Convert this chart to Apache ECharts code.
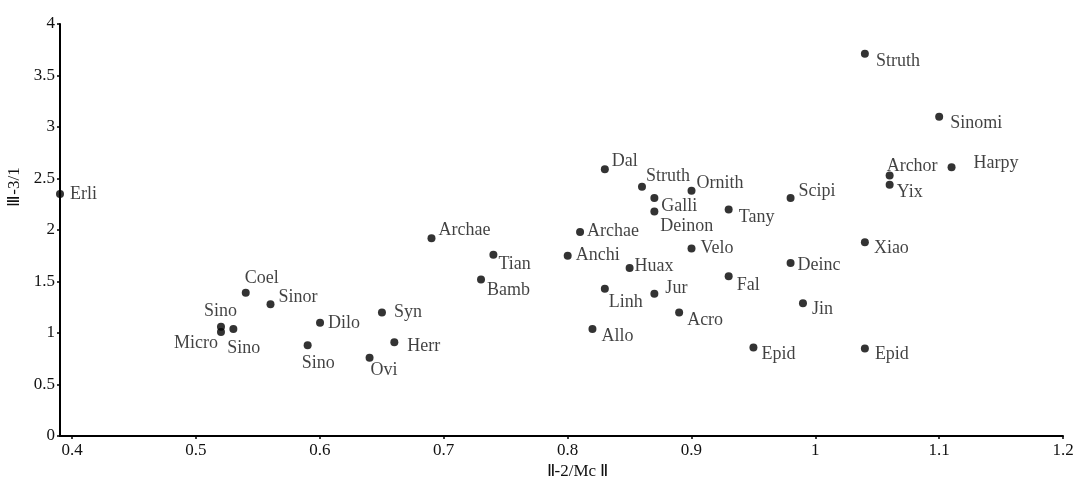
<!DOCTYPE html>
<html>
<head>
<meta charset="utf-8">
<script src="https://cdn.jsdelivr.net/npm/echarts@6/dist/echarts.min.js"></script>
<style>
html, body { margin: 0; padding: 0; background: #fff; }
#main { width: 1081px; height: 479px; }
</style>
</head>
<body>
<div id="main"></div>
<script>
// taxon labels and the two ratios
var names = ['Erli','Coel','Sinor','Sino','Micro','Sino','Dilo','Sino','Archae','Tian',
    'Bamb','Syn','Herr','Ovi','Dal','Struth','Ornith','Galli','Deinon','Tany',
    'Archae','Anchi','Huax','Velo','Fal','Linh','Jur','Acro','Allo','Struth',
    'Sinomi','Harpy','Archor','Yix','Scipi','Xiao','Deinc','Jin','Epid','Epid'];
var xVals = [0.39,0.54,0.56,0.52,0.52,0.53,0.60,0.59,0.69,0.74,
    0.73,0.65,0.66,0.64,0.83,0.86,0.90,0.87,0.87,0.93,
    0.81,0.80,0.85,0.90,0.93,0.83,0.87,0.89,0.82,1.04,
    1.10,1.11,1.06,1.06,0.98,1.04,0.98,0.99,0.95,1.04];
var yVals = [2.35,1.39,1.28,1.06,1.01,1.04,1.10,0.88,1.92,1.76,
    1.52,1.20,0.91,0.76,2.59,2.42,2.38,2.31,2.18,2.20,
    1.98,1.75,1.63,1.82,1.55,1.43,1.38,1.20,1.04,3.71,
    3.10,2.61,2.53,2.44,2.31,1.88,1.68,1.29,0.86,0.85];
var xTicks = [0.4,0.5,0.6,0.7,0.8,0.9,1,1.1,1.2];

// label placement (px from dot centre), style only
var labelOff = [[10,0],[-1,-15],[8,-7],[-17,-16],[-3,11,'right'],[-6,19],[8,1],[-6,18],[7,-8],[5,10],
    [6,11],[12,0],[13,4],[1,13],[7,-8],[4,-10],[5,-8],[7,8],[6,15],[10,8],
    [7,-1],[8,0],[5,-2],[9,0],[8,9],[4,14],[11,-6],[8,8],[9,7],[11,7],
    [11,7],[22,-4],[-3,-9],[7,8],[8,-7],[9,6],[7,2],[9,6],[8,7],[10,6]];

var FONT = '"Liberation Serif", "Times New Roman", serif';
var SYM = 8;

var pts = [];
for (var i = 0; i < names.length; i++) {
    var o = labelOff[i];
    pts.push({
        name: names[i],
        value: [xVals[i], yVals[i]],
        label: {
            position: [o[0] + SYM / 2, o[1] + SYM / 2],
            align: o[2] || 'left',
            verticalAlign: 'middle'
        }
    });
}

var myChart = echarts.init(document.getElementById('main'));
var option = {
    backgroundColor: '#fff',
    animation: false,
    grid: [
        { left: 60, right: 18, top: 24, bottom: 43, containLabel: false, outerBoundsMode: 'none' },
        { left: 72, right: 18, top: 24, bottom: 43, containLabel: false, outerBoundsMode: 'none' }
    ],
    xAxis: [{
        gridIndex: 0,
        type: 'value',
        min: 0.39,
        max: 1.2,
        axisLine: { show: true, lineStyle: { color: '#000', width: 2 } },
        axisTick: { show: false },
        axisLabel: { show: false },
        splitLine: { show: false },
        name: 'Ⅱ-2/Mc Ⅱ',
        nameLocation: 'middle',
        nameGap: 27,
        nameTextStyle: { fontFamily: FONT, fontSize: 17, color: '#111', padding: [0, 0, 0, 32] }
    }, {
        // display axis for the 0.4..1.2 ticks
        gridIndex: 1,
        type: 'value',
        min: 0.4,
        max: 1.2,
        interval: 0.1,
        axisLine: { show: false },
        axisTick: { show: true, length: 3, lineStyle: { color: '#000', width: 1.5 } },
        axisLabel: {
            fontFamily: FONT, fontSize: 17, color: '#111', margin: 6,
            formatter: function (v) { return String(Math.round(v * 10) / 10); }
        },
        splitLine: { show: false }
    }],
    yAxis: [{
        gridIndex: 0,
        type: 'value',
        min: 0,
        max: 4,
        interval: 0.5,
        axisLine: { show: true, lineStyle: { color: '#000', width: 2 } },
        axisTick: { show: true, length: 3, lineStyle: { color: '#000', width: 1.5 } },
        axisLabel: { fontFamily: FONT, fontSize: 17, color: '#111', margin: 5 },
        splitLine: { show: false },
        name: 'Ⅲ-3/1',
        nameLocation: 'middle',
        nameGap: 36,
        nameTextStyle: { fontFamily: FONT, fontSize: 17, color: '#111', padding: [0, 0, 0, 86] }
    }, {
        gridIndex: 1,
        type: 'value',
        min: 0,
        max: 4,
        show: false
    }],
    series: [{
        type: 'scatter',
        xAxisIndex: 0,
        yAxisIndex: 0,
        clip: false,
        symbol: 'circle',
        symbolSize: SYM,
        itemStyle: { color: '#000' },
        label: {
            show: true,
            formatter: '{b}',
            fontFamily: FONT,
            fontSize: 18,
            color: '#111'
        },
        labelLayout: { hideOverlap: false },
        data: pts
    }]
};
myChart.setOption(option);
</script>
</body>
</html>
